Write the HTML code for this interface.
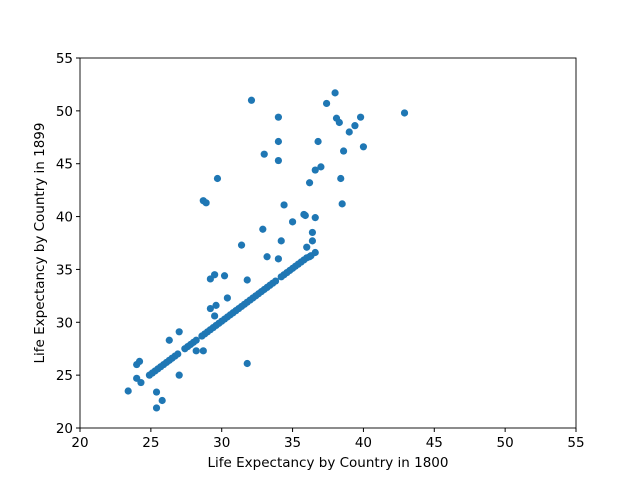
<!DOCTYPE html>
<html><head><meta charset="utf-8"><style>
body{margin:0;background:#fff}
svg text{font-family:"DejaVu Sans","Liberation Sans",sans-serif;font-size:13.5px;fill:#000}
</style></head><body>
<svg id="chart" width="640" height="480">
<rect width="640" height="480" fill="#fff"/>
<g id="pts"></g>
<rect x="80" y="58" width="496" height="370" fill="none" stroke="#000" stroke-width="0.9"/>
<g id="axes"></g>
<text x="328" y="467" text-anchor="middle">Life Expectancy by Country in 1800</text>
<text transform="translate(44,243) rotate(-90)" text-anchor="middle">Life Expectancy by Country in 1899</text>
</svg>
<script>
const xTicks=[20,25,30,35,40,45,50,55];
const yTicks=[20,25,30,35,40,45,50,55];
const offX=[23.4,24.0,24.2,24.0,24.3,25.4,25.4,25.8,26.3,27.0,27.0,28.2,28.7,28.7,28.9,29.2,29.5,29.7,29.2,29.6,29.5,30.2,30.4,31.4,31.8,31.8,32.1,32.9,33.0,33.2,34.0,34.0,34.0,34.0,34.2,34.4,35.0,35.8,35.9,36.0,36.2,36.6,37.0,36.8,36.6,36.4,36.4,36.6,36.2,37.4,38.0,38.1,38.3,38.4,38.5,38.6,39.0,39.4,39.8,40.0,42.9];
const offY=[23.5,26.0,26.3,24.7,24.3,23.4,21.9,22.6,28.3,25.0,29.1,27.3,27.3,41.5,41.3,34.1,34.5,43.6,31.3,31.6,30.6,34.4,32.3,37.3,26.1,34.0,51.0,38.8,45.9,36.2,36.0,49.4,47.1,45.3,37.7,41.1,39.5,40.2,40.1,37.1,43.2,44.4,44.7,47.1,39.9,38.5,37.7,36.6,36.2,50.7,51.7,49.3,48.9,43.6,41.2,46.2,48.0,48.6,49.4,46.6,49.8];
const diagX=[24.9,25.1,25.3,25.5,25.7,25.9,26.1,26.3,26.5,26.7,26.9,27.4,27.6,27.8,28.0,28.2,28.6,28.8,29.0,29.2,29.4,29.6,29.8,30.0,30.2,30.4,30.6,30.8,31.0,31.2,31.4,31.6,31.8,32.0,32.2,32.4,32.6,32.8,33.0,33.2,33.4,33.6,33.8,34.2,34.4,34.6,34.8,35.0,35.2,35.4,35.6,35.8,36.0,36.3];
const diagY=[25.0,25.2,25.4,25.6,25.8,26.0,26.2,26.4,26.6,26.8,27.0,27.5,27.7,27.9,28.1,28.3,28.7,28.9,29.1,29.3,29.5,29.7,29.9,30.1,30.3,30.5,30.7,30.9,31.1,31.3,31.5,31.7,31.9,32.1,32.3,32.5,32.7,32.9,33.1,33.3,33.5,33.7,33.9,34.3,34.5,34.7,34.9,35.1,35.3,35.5,35.7,35.9,36.1,36.3];
const NS='http://www.w3.org/2000/svg';
const X0=80,X1=576,Y0=428,Y1=58,DMIN=20,DMAX=55;
function sx(v){return X0+(v-DMIN)/(DMAX-DMIN)*(X1-X0);}
function sy(v){return Y0-(v-DMIN)/(DMAX-DMIN)*(Y0-Y1);}
const axes=document.getElementById('axes');
xTicks.forEach(t=>{
 const l=document.createElementNS(NS,'line');
 l.setAttribute('x1',sx(t));l.setAttribute('x2',sx(t));l.setAttribute('y1',Y0);l.setAttribute('y2',Y0+4);l.setAttribute('stroke','#000');
 
 
 axes.appendChild(l);
 const tx=document.createElementNS(NS,'text');
 tx.setAttribute('x',sx(t));tx.setAttribute('y',Y0+19);tx.setAttribute('text-anchor','middle');tx.textContent=t;
 
 
 axes.appendChild(tx);
});
yTicks.forEach(t=>{
 const l=document.createElementNS(NS,'line');
 l.setAttribute('x1',X0-4);l.setAttribute('x2',X0);l.setAttribute('y1',sy(t));l.setAttribute('y2',sy(t));l.setAttribute('stroke','#000');
 
 
 axes.appendChild(l);
 const tx=document.createElementNS(NS,'text');
 tx.setAttribute('x',X0-7);tx.setAttribute('y',sy(t)+5);tx.setAttribute('text-anchor','end');tx.textContent=t;
 
 
 axes.appendChild(tx);
});
const pts=document.getElementById('pts');
function draw(xs,ys){
 xs.forEach((x,i)=>{
  const c=document.createElementNS(NS,'circle');
  c.setAttribute('cx',sx(x));c.setAttribute('cy',sy(ys[i]));c.setAttribute('r',3.6);c.setAttribute('fill','#1f77b4');
  
  
  pts.appendChild(c);
 });
}
draw(diagX,diagY);
draw(offX,offY);
</script>
</body></html>
